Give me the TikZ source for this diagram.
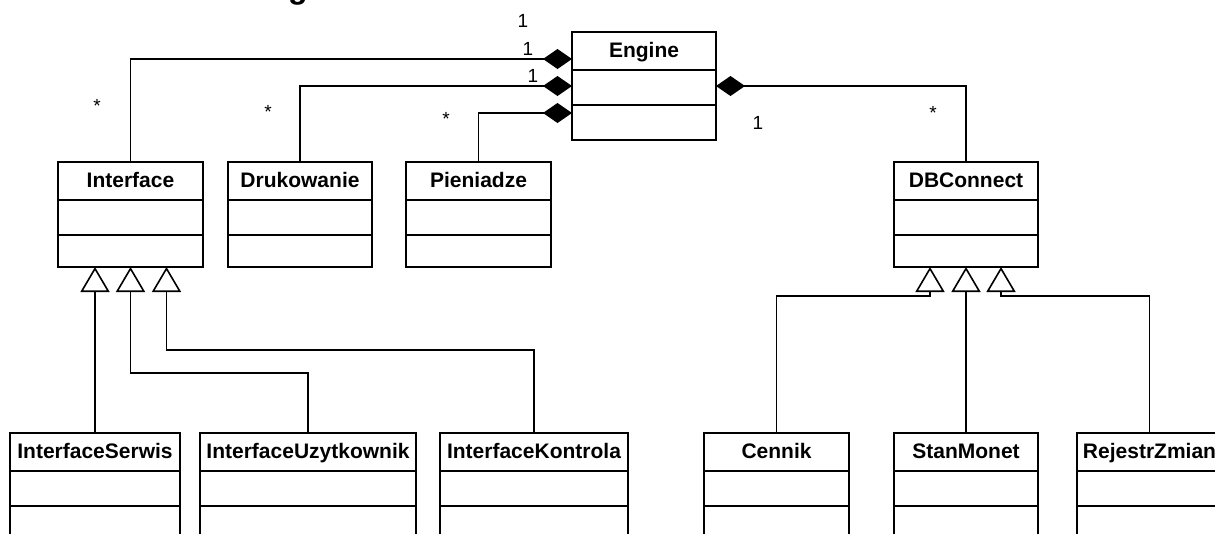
\documentclass[tikz,border=0pt]{standalone}
\usepackage{fontspec}
\setmainfont{Liberation Sans}
\usetikzlibrary{arrows.meta,calc}

\tikzset{
  classframe/.style={draw, line width=1.6pt, inner sep=0pt, outer sep=0pt, anchor=north west},
  classtitle/.style={font=\fontsize{21}{24}\selectfont\bfseries, inner sep=0pt, anchor=base},
  sepline/.style={line width=1.6pt},
  comp/.style={line width=1.6pt, {Diamond[length=29pt,width=20pt]}-},
  gen/.style={line width=1.6pt, -{Triangle[open,length=25pt,width=29pt,fill=white]}},
  mult/.style={font=\fontsize{19}{22}\selectfont, inner sep=0pt, anchor=base},
}

% #1 node name, #2 left, #3 right, #4 top, #5 height, #6 class name
\newcommand\umlclass[6]{%
  \node[classframe, minimum width={#3-#2}, minimum height=#5] (#1) at (#2,#4) {};
  \node[classtitle] (#1-title) at ({(#2+#3)/2},{#4+25}) {#6};
  \draw[sepline] (#2,#4+38) -- (#3,#4+38);
  \draw[sepline] (#2,#4+73) -- (#3,#4+73);
}

\begin{document}
\begin{tikzpicture}[x=1pt,y=-1pt]
  \fill[white] (0,0) rectangle (1215,533);
  \useasboundingbox (0,0) rectangle (1215,533);

  % heading (only its descender lies inside the page)
  \node[font=\fontsize{32}{36}\selectfont\bfseries, anchor=base, inner sep=0pt] (heading) at (298,-2) {g};

  % classes
  \umlclass{Engine}{572}{716}{32}{108}{Engine}
  \umlclass{Interface}{58}{203}{162}{105}{Interface}
  \umlclass{Drukowanie}{228}{372}{162}{105}{Drukowanie}
  \umlclass{Pieniadze}{406}{551}{162}{105}{Pieniadze}
  \umlclass{DBConnect}{894}{1038}{162}{105}{DBConnect}

  \umlclass{ISerwis}{10}{180}{433}{105}{InterfaceSerwis}
  \umlclass{IUzyt}{200}{416}{433}{105}{InterfaceUzytkownik}
  \umlclass{IKontrola}{440}{628}{433}{105}{InterfaceKontrola}
  \umlclass{Cennik}{704}{849}{433}{105}{Cennik}
  \umlclass{StanMonet}{894}{1038}{433}{105}{StanMonet}
  \umlclass{Rejestr}{1077}{1222}{433}{105}{RejestrZmian}

  % compositions
  \draw[comp] ($(Engine.north west)+(0,27)$) -| (Interface.north);
  \draw[comp] ($(Engine.north west)+(0,54)$) -| (Drukowanie.north);
  \draw[comp] ($(Engine.north west)+(0,81)$) -| (Pieniadze.north);
  \draw[comp] ($(Engine.north east)+(0,54)$) -| (DBConnect.north);

  % multiplicities
  \node[mult] (m1) at (523,27) {1};
  \node[mult] (m2) at (528,55) {1};
  \node[mult] (m3) at (533,82) {1};
  \node[mult] (m4) at (758,129) {1};
  \node[mult] (s1) at (97,112) {*};
  \node[mult] (s2) at (268,118) {*};
  \node[mult] (s3) at (446,125) {*};
  \node[mult] (s4) at (933,119) {*};

  % generalizations towards Interface
  \draw[gen] (ISerwis.north) -- (ISerwis.north |- Interface.south);
  \draw[gen] (IUzyt.north) |- ($(Interface.south)+(0,106)$) -- (Interface.south);
  \draw[gen] (IKontrola.north) |- ($(Interface.south)+(36,83)$) -- ($(Interface.south)+(36,0)$);

  % generalizations towards DBConnect
  \draw[gen] (Cennik.north) |- ($(DBConnect.south)+(-36,29)$) -- ($(DBConnect.south)+(-36,0)$);
  \draw[gen] (StanMonet.north) -- (DBConnect.south);
  \draw[gen] (Rejestr.north) |- ($(DBConnect.south)+(35,29)$) -- ($(DBConnect.south)+(35,0)$);
\end{tikzpicture}
\end{document}
